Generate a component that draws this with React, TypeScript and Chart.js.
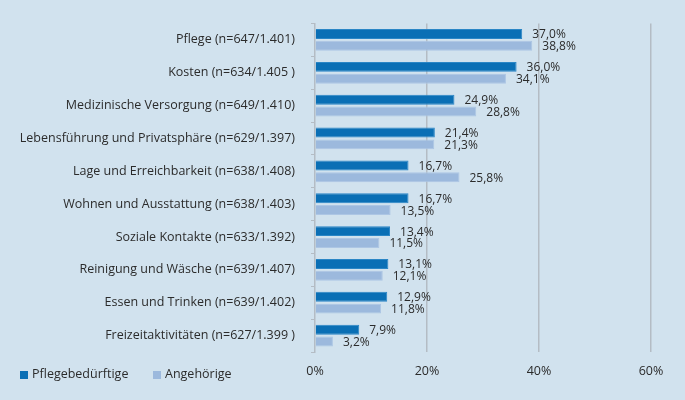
import React, { useEffect, useRef } from "react";
import { Chart, registerables } from "chart.js";

Chart.register(...registerables);

const categories = [
  "Pflege (n=647/1.401)",
  "Kosten (n=634/1.405 )",
  "Medizinische Versorgung (n=649/1.410)",
  "Lebensführung und Privatsphäre (n=629/1.397)",
  "Lage und Erreichbarkeit (n=638/1.408)",
  "Wohnen und Ausstattung (n=638/1.403)",
  "Soziale Kontakte (n=633/1.392)",
  "Reinigung und Wäsche (n=639/1.407)",
  "Essen und Trinken (n=639/1.402)",
  "Freizeitaktivitäten (n=627/1.399 )",
];
const pflegebeduerftige = [37.0, 36.0, 24.9, 21.4, 16.7, 16.7, 13.4, 13.1, 12.9, 7.9];
const angehoerige = [38.8, 34.1, 28.8, 21.3, 25.8, 13.5, 11.5, 12.1, 11.8, 3.2];
const seriesNames = ["Pflegebedürftige", "Angehörige"];
const xTicks = [0, 20, 40, 60];

const BG = "#d1e2ee";
const DARK = "#0a6fb5";
const LIGHT = "#9cb9dd";
const TEXT = "#2b2b2b";
const GRID = "#b4bcc4";
const FONT = "'Open Sans', 'Noto Sans', sans-serif";

export default function App() {
  const ref = useRef<HTMLCanvasElement>(null);

  useEffect(() => {
    document.body.style.margin = "0";
    const canvas = ref.current;
    if (!canvas) return;

    const bgPlugin = {
      id: "bg",
      beforeDraw(chart: any) {
        const ctx = chart.ctx;
        ctx.save();
        ctx.fillStyle = BG;
        ctx.fillRect(0, 0, chart.width, chart.height);
        ctx.restore();
      },
    };

    const labelPlugin = {
      id: "valueLabels",
      afterDatasetsDraw(chart: any) {
        const ctx = chart.ctx;
        ctx.save();
        ctx.font = `12px ${FONT}`;
        ctx.fillStyle = TEXT;
        ctx.textAlign = "left";
        ctx.textBaseline = "middle";
        chart.data.datasets.forEach((ds: any, di: number) => {
          const meta = chart.getDatasetMeta(di);
          meta.data.forEach((bar: any, i: number) => {
            const v = ds.data[i] as number;
            const txt = v.toFixed(1).replace(".", ",") + "%";
            ctx.fillText(txt, bar.x + 10, bar.y + 1);
          });
        });
        ctx.restore();
      },
    };

    const legendPlugin = {
      id: "customLegend",
      afterDraw(chart: any) {
        const ctx = chart.ctx;
        ctx.save();
        ctx.font = `12.5px ${FONT}`;
        ctx.textBaseline = "middle";
        ctx.textAlign = "left";
        const positions = [20, 153];
        const y = 374;
        chart.data.datasets.forEach((ds: any, di: number) => {
          const x = positions[di];
          ctx.fillStyle = ds.backgroundColor;
          ctx.fillRect(x, y - 3, 8, 8);
          ctx.fillStyle = TEXT;
          ctx.fillText(ds.label, x + 12, y);
        });
        ctx.restore();
      },
    };

    const chart = new Chart(canvas, {
      type: "bar",
      data: {
        labels: categories,
        datasets: [
          {
            label: seriesNames[0],
            data: pflegebeduerftige,
            backgroundColor: DARK,
            borderColor: "#2a86c6",
            borderWidth: 1,
            categoryPercentage: 0.72,
            barPercentage: 0.84,
          },
          {
            label: seriesNames[1],
            data: angehoerige,
            backgroundColor: LIGHT,
            borderColor: "#adc6e4",
            borderWidth: 1,
            categoryPercentage: 0.72,
            barPercentage: 0.84,
          },
        ],
      },
      options: {
        indexAxis: "y",
        responsive: false,
        animation: false,
        layout: { padding: { top: 19, right: 34, left: 0, bottom: 0 } },
        plugins: {
          legend: { display: false },
          tooltip: { enabled: false },
        },
        scales: {
          x: {
            min: 0,
            max: 60,
            afterBuildTicks(scale: any) {
              scale.ticks = xTicks.map((v) => ({ value: v }));
            },
            afterFit(scale: any) {
              scale.height = 48;
            },
            border: { display: false },
            grid: {
              color: (c: any) => (c.tick && c.tick.value === 0 ? "rgba(0,0,0,0)" : GRID),
              lineWidth: 1.5,
              drawTicks: false,
            },
            ticks: {
              padding: 12,
              color: TEXT,
              font: { family: FONT, size: 12.5 },
              callback: (v: any) => `${v}%`,
            },
          },
          y: {
            afterFit(scale: any) {
              scale.width = 315;
            },
            border: { display: true, color: GRID, width: 1.5 },
            grid: {
              display: true,
              drawOnChartArea: false,
              drawTicks: true,
              tickLength: 4,
              color: GRID,
              lineWidth: 1,
              offset: true,
            },
            ticks: {
              padding: 16,
              color: TEXT,
              font: { family: FONT, size: 12.5 },
            },
          },
        },
      },
      plugins: [bgPlugin, labelPlugin, legendPlugin],
    });

    return () => chart.destroy();
  }, []);

  return <canvas ref={ref} width={685} height={400} style={{ display: "block" }} />;
}
